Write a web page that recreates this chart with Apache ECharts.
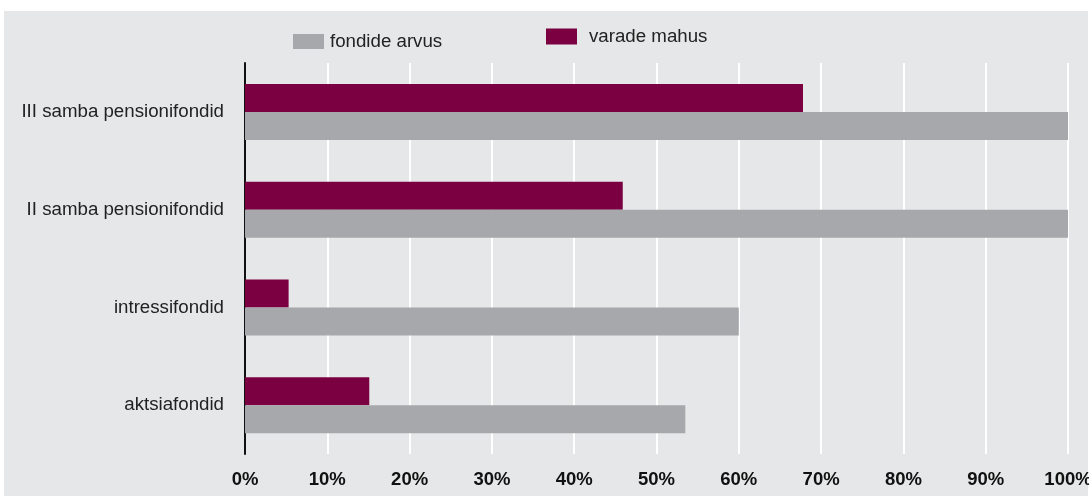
<!DOCTYPE html>
<html>
<head>
<meta charset="utf-8">
<script src="https://cdn.jsdelivr.net/npm/echarts@6/dist/echarts.min.js"></script>
<style>
  html, body { margin: 0; padding: 0; background: #fff; }
  #chart { width: 1089px; height: 496px; }
</style>
</head>
<body>
<div id="chart"></div>
<script>
// categories listed bottom to top (category axis starts at the bottom)
const categories = ["aktsiafondid", "intressifondid", "II samba pensionifondid", "III samba pensionifondid"];
// share in %, same order as categories
const fondideArvus = [53.5, 60, 100, 100];
const varadeMahus = [15.1, 5.3, 45.9, 67.8];
const tickLabels = ["0%", "10%", "20%", "30%", "40%", "50%", "60%", "70%", "80%", "90%", "100%"];

const font = "'Liberation Sans', Arial, Helvetica, sans-serif";

const chart = echarts.init(document.getElementById("chart"));
chart.setOption({
  animation: false,
  backgroundColor: "#fff",
  textStyle: { fontFamily: font },
  graphic: [
    {
      type: "rect",
      left: 4,
      top: 11,
      z: -10,
      shape: { width: 1084, height: 485 },
      style: { fill: "#e6e7e8" },
    },
  ],
  legend: [
    {
      data: ["fondide arvus"],
      left: 288,
      top: 27,
      icon: "rect",
      itemWidth: 31,
      itemHeight: 15,
      textStyle: { fontSize: 18.7, color: "#222", fontFamily: font, padding: [0, 0, 0, 1] },
    },
    {
      data: ["varade mahus"],
      left: 541,
      top: 22,
      icon: "rect",
      itemWidth: 31,
      itemHeight: 16,
      textStyle: { fontSize: 18.7, color: "#222", fontFamily: font, padding: [0, 0, 0, 7] },
    },
  ],
  grid: { left: 245, right: 21, top: 63, bottom: 42, outerBoundsMode: "none" },
  xAxis: {
    type: "value",
    min: 0,
    max: 100,
    interval: 10,
    axisLine: { show: false },
    axisTick: { show: false },
    axisLabel: {
      margin: 16,
      fontSize: 18.5,
      fontWeight: "bold",
      color: "#111",
      fontFamily: font,
      formatter: (v) => tickLabels[Math.round(v / 10)],
    },
    splitLine: { show: true, lineStyle: { color: "#ffffff", width: 2 } },
  },
  yAxis: {
    type: "category",
    data: categories,
    axisLine: { show: true, lineStyle: { color: "#111", width: 2 } },
    axisTick: { show: false },
    axisLabel: { margin: 21, fontSize: 18.7, color: "#222", fontFamily: font },
  },
  series: [
    {
      name: "varade mahus",
      type: "bar",
      data: varadeMahus,
      barWidth: 28,
      barGap: "0%",
      itemStyle: { color: "#7b0041" },
    },
    {
      name: "fondide arvus",
      type: "bar",
      data: fondideArvus,
      barWidth: 28,
      barGap: "0%",
      itemStyle: { color: "#a7a8ab" },
    },
  ],
});
</script>
</body>
</html>
